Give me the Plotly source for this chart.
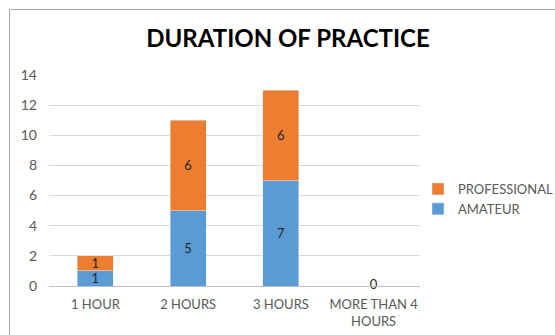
import plotly.graph_objects as go

categories = ["1 HOUR", "2 HOURS", "3 HOURS", "MORE THAN 4<br>HOURS"]
amateur = [1, 5, 7, 0]
professional = [1, 6, 6, 0]

BLUE = "#5B9BD5"
ORANGE = "#ED7D31"
FONT = "Lato"
TEXT = "#595959"
LABEL = "#262626"

fig = go.Figure()
for name, vals, color in [("AMATEUR", amateur, BLUE), ("PROFESSIONAL", professional, ORANGE)]:
    fig.add_trace(go.Bar(
        name=name, x=categories, y=vals, marker_color=color,
        legendgroup=name,
        text=[str(v) if v else "" for v in vals], textposition="inside",
        insidetextanchor="middle", textangle=0, constraintext="none",
        textfont=dict(family=FONT, size=13, color=LABEL),
        width=0.39,
    ))

# label for empty stacks, sitting on the baseline
totals = [a + p for a, p in zip(amateur, professional)]
zero_x = [c for c, t in zip(categories, totals) if t == 0]
fig.add_trace(go.Scatter(
    x=zero_x, y=[0] * len(zero_x), mode="text", text=["0"] * len(zero_x),
    textfont=dict(family=FONT, size=13, color=LABEL),
    showlegend=False, hoverinfo="skip", cliponaxis=False,
))

L, R, T, B = 49, 135, 75, 49
W, H = 555, 335
pw, ph = W - L - R, H - T - B

fig.update_layout(
    width=W, height=H,
    margin=dict(l=L, r=R, t=T, b=B, autoexpand=False),
    barmode="stack",
    plot_bgcolor="white", paper_bgcolor="white",
    title=dict(text="<b>DURATION OF PRACTICE</b>", x=288 / W, xanchor="center",
               y=1 - 39 / H, yanchor="middle",
               font=dict(family=FONT, size=24, color="#000000")),
    font=dict(family=FONT, size=13, color=TEXT),
    legend=dict(traceorder="reversed", x=(418 - L) / pw, xanchor="left",
                y=(286 - 199) / ph, yanchor="middle",
                font=dict(family=FONT, size=13, color=TEXT),
                itemwidth=30, tracegroupgap=13, bgcolor="rgba(0,0,0,0)"),
    xaxis=dict(showgrid=False, showline=True, linecolor="#bfbfbf", linewidth=1,
               ticks="", ticklabelstandoff=6,
               tickfont=dict(family=FONT, size=13, color=TEXT)),
    yaxis=dict(range=[0, 14], dtick=2, showgrid=True, gridcolor="#d9d9d9",
               gridwidth=1, zeroline=False, showline=False, ticks="",
               ticklabelstandoff=11,
               tickfont=dict(family=FONT, size=14, color=TEXT)),
    shapes=[dict(type="rect", xref="paper", yref="paper",
                 x0=(9.5 - L) / pw, x1=(W + 5 - L) / pw,
                 y0=-(B + 5) / ph, y1=1 + (T - 9.5) / ph,
                 line=dict(color="#a6a6a6", width=1), layer="below")],
)

fig.write_html("out.html")
